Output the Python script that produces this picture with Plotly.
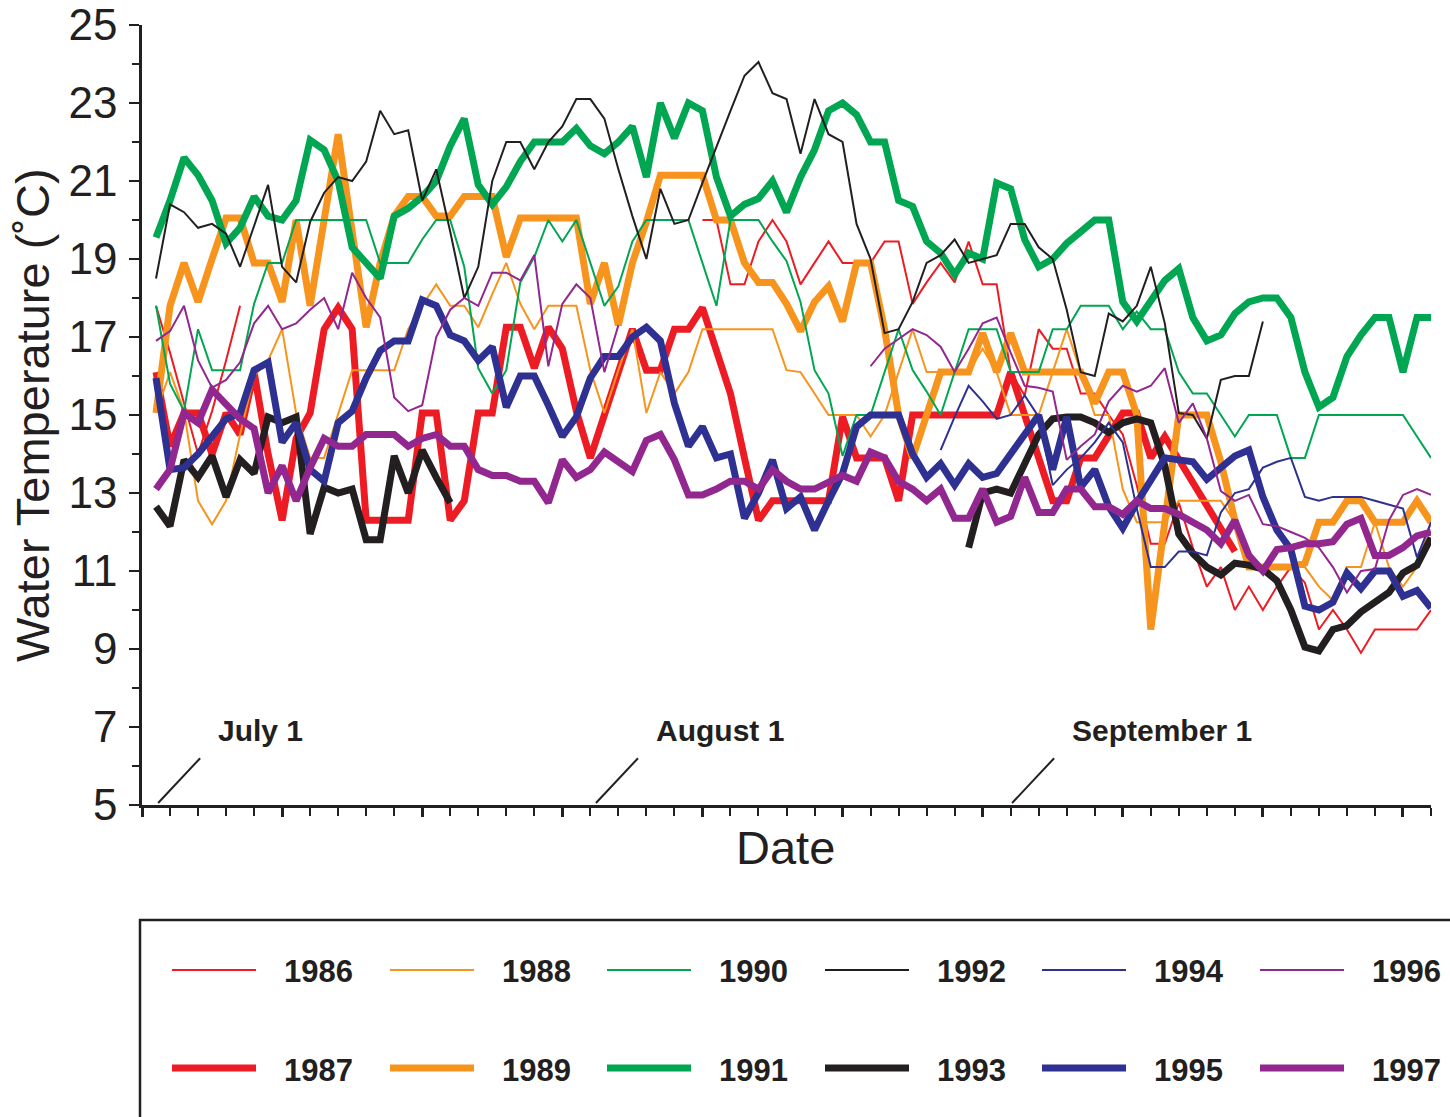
import plotly.graph_objects as go

N = None
days = list(range(1, 93))

t1986 = [17.8, 16.6, 15.3, 14.0, 15.1, 16.4, 17.8, N, N, N,
         N, N, N, N, N, N, N, N, N, N,
         N, N, N, N, N, N, N, N, N, N,
         N, N, N, N, N, N, N, N, N, 20.0,
         20.0, 18.35, 18.35, 19.45, 20.0, 19.45, 18.35, 18.9, 19.45, 18.9,
         18.9, 18.9, 19.45, 19.45, 17.85, 18.4, 18.9, 18.4, 19.45, 18.35,
         18.35, 16.1, 15.5, 17.2, 16.7, 16.7, 15.55, 15.55, 15.0, 14.5,
         13.2, 11.7, 11.7, 12.75, 11.6, 10.6, 11.1, 10.0, 10.6, 10.0,
         10.6, 11.1, 10.7, 9.5, 10.0, 9.5, 8.9, 9.5, 9.5, 9.5,
         9.5, 10.0]
t1987 = [16.1, 14.2, 15.05, 15.05, 14.0, 15.05, 14.5, 16.1, 14.0, 12.3,
         14.4, 15.05, 17.2, 17.75, 17.2, 12.3, 12.3, 12.3, 12.3, 15.05,
         15.05, 12.3, 12.8, 15.05, 15.05, 17.25, 17.25, 16.2, 17.25, 16.7,
         15.1, 13.9, 15.05, 16.15, 17.2, 16.15, 16.15, 17.2, 17.2, 17.75,
         16.65, 15.55, 13.9, 12.3, 12.8, 12.8, 12.8, 12.8, 12.8, 14.95,
         13.9, 13.9, 13.9, 12.8, 15.0, 15.0, 15.0, 15.0, 15.0, 15.0,
         15.0, 16.1, 15.0, 13.9, 12.8, 12.8, 13.9, 13.9, 14.45, 15.05,
         15.05, 13.9, 14.45, 13.85, 13.3, 12.7, 12.1, 11.5, N, N,
         N, N, N, N, N, N, N, N, N, N,
         N, N]
t1988 = [15.05, 16.1, 15.1, 12.8, 12.2, 12.8, 14.5, 16.0, 16.4, 17.2,
         15.05, 13.9, 13.9, 15.05, 16.15, 16.15, 16.15, 16.15, 17.2, 17.8,
         18.35, 17.8, 17.8, 17.25, 18.1, 18.9, 17.85, 17.2, 17.8, 17.8,
         17.8, 16.15, 15.05, 16.15, 17.2, 15.05, 16.1, 15.55, 16.1, 17.2,
         17.2, 17.2, 17.2, 17.2, 17.2, 16.15, 16.1, 15.55, 15.0, 15.0,
         15.0, 14.45, 15.0, 16.1, 17.2, 16.1, 16.1, 16.1, 16.1, 16.7,
         16.1, 15.0, 15.0, 15.0, 16.1, 17.2, 16.1, 15.0, 15.0, 13.1,
         12.25, 12.25, 12.25, 12.8, 12.8, 12.8, 12.8, 12.25, 11.1, 11.1,
         11.1, 11.1, 11.1, 10.6, 10.25, 11.1, 11.1, 12.25, 11.1, 10.6,
         11.1, 12.25]
t1989 = [15.05, 17.8, 18.9, 17.9, 19.0, 20.05, 20.05, 18.9, 18.9, 17.9,
         20.0, 17.8, 20.0, 22.2, 19.7, 17.25, 18.9, 20.1, 20.6, 20.6,
         20.1, 20.1, 20.6, 20.6, 20.6, 19.05, 20.05, 20.05, 20.05, 20.05,
         20.05, 17.85, 18.9, 17.3, 18.9, 19.95, 21.15, 21.15, 21.15, 21.15,
         20.0, 20.0, 18.9, 18.4, 18.4, 17.85, 17.15, 17.9, 18.3, 17.4,
         18.9, 18.9, 17.2, 15.0, 13.9, 15.0, 16.1, 16.1, 16.1, 17.1,
         16.1, 17.1, 16.1, 16.1, 16.1, 16.1, 16.1, 15.3, 16.1, 16.1,
         15.0, 9.5, 12.25, 15.0, 15.0, 15.0, 13.8, 12.3, 11.1, 11.1,
         11.1, 11.1, 11.2, 12.25, 12.25, 12.8, 12.8, 12.25, 12.25, 12.25,
         12.8, 12.25]
t1990 = [17.8, 15.8, 15.1, 17.2, 16.15, 16.15, 16.15, 17.85, 18.9, 18.9,
         20.0, 20.0, 20.0, 20.0, 20.0, 20.0, 18.9, 18.9, 18.9, 19.5,
         20.0, 20.0, 18.8, 16.2, 15.55, 16.15, 18.4, 19.05, 20.0, 19.45,
         20.0, 18.9, 17.8, 18.3, 19.45, 20.0, 20.0, 20.0, 20.0, 18.9,
         17.8, 20.0, 20.0, 20.0, 19.45, 18.95, 17.9, 16.15, 15.55, 13.95,
         15.0, 15.0, 16.1, 17.2, 16.15, 15.6, 15.0, 16.1, 17.2, 17.2,
         17.2, 16.1, 16.1, 16.1, 17.2, 17.2, 17.8, 17.8, 17.8, 17.2,
         17.65, 17.2, 17.2, 16.1, 15.55, 15.55, 15.0, 14.45, 15.0, 15.0,
         15.0, 13.9, 13.9, 15.0, 15.0, 15.0, 15.0, 15.0, 15.0, 15.0,
         14.45, 13.9]
t1991 = [19.55, 20.5, 21.6, 21.15, 20.5, 19.4, 19.8, 20.6, 20.1, 20.0,
         20.5, 22.05, 21.8, 21.0, 19.3, 18.9, 18.5, 20.1, 20.3, 20.6,
         21.0, 21.9, 22.6, 20.9, 20.4, 20.85, 21.5, 22.0, 22.0, 22.0,
         22.35, 21.9, 21.7, 22.0, 22.4, 21.1, 23.0, 22.1, 23.0, 22.8,
         21.1, 20.1, 20.4, 20.55, 21.0, 20.2, 21.1, 21.8, 22.8, 23.0,
         22.7, 22.0, 22.0, 20.5, 20.35, 19.45, 19.15, 18.6, 19.15, 19.0,
         20.95, 20.8, 19.5, 18.8, 19.0, 19.4, 19.7, 20.0, 20.0, 17.9,
         17.4, 17.9, 18.45, 18.75, 17.5, 16.9, 17.05, 17.6, 17.9, 18.0,
         18.0, 17.5, 16.1, 15.2, 15.45, 16.5, 17.05, 17.5, 17.5, 16.1,
         17.5, 17.5]
t1992 = [18.5, 20.4, 20.2, 19.8, 19.9, 19.65, 18.8, 19.85, 20.9, 18.8,
         18.4, 19.95, 20.7, 21.1, 21.0, 21.5, 22.8, 22.2, 22.3, 20.5,
         21.3, 19.7, 18.0, 18.8, 21.0, 22.0, 22.0, 21.3, 22.0, 22.4,
         23.1, 23.1, 22.6, 21.3, 20.1, 19.0, 20.8, 19.9, 20.0, 20.95,
         21.9, 22.8, 23.7, 24.05, 23.25, 23.1, 21.7, 23.1, 22.2, 22.0,
         19.9, 19.0, 17.1, 17.2, 17.9, 18.9, 19.1, 19.5, 18.9, 19.0,
         19.1, 19.9, 19.9, 19.3, 19.0, 17.7, 16.1, 16.0, 17.6, 17.4,
         17.8, 18.8, 17.35, 15.05, 15.0, 14.4, 15.9, 16.0, 16.0, 17.4,
         N, N, N, N, N, N, N, N, N, N,
         N, N]
t1993 = [12.65, 12.15, 13.85, 13.4, 13.95, 12.9, 13.85, 13.5, 14.95, 14.8,
         14.95, 11.95, 13.15, 13.0, 13.1, 11.8, 11.8, 13.95, 13.0, 14.1,
         13.4, 12.75, N, N, N, N, N, N, N, N,
         N, N, N, N, N, N, N, N, N, N,
         N, N, N, N, N, N, N, N, N, N,
         N, N, N, N, N, N, N, N, 11.6, 13.0,
         13.1, 13.0, 13.75, 14.5, 14.9, 14.95, 14.95, 14.8, 14.55, 14.8,
         14.9, 14.8, 13.7, 11.95, 11.45, 11.1, 10.9, 11.2, 11.15, 11.05,
         10.75, 10.0, 9.05, 8.95, 9.5, 9.6, 9.95, 10.2, 10.45, 10.95,
         11.15, 11.85]
t1994 = [N, N, N, N, N, N, N, N, N, N,
         N, N, N, N, N, N, N, N, N, N,
         N, N, N, N, N, N, N, N, N, N,
         N, N, N, N, N, N, N, N, N, N,
         N, N, N, N, N, N, N, N, N, N,
         N, N, N, N, N, N, 14.1, 14.95, 15.75, 15.35,
         14.9, 15.0, 15.5, 14.95, 13.2, 13.6, 13.9, 14.3, 14.8, 14.3,
         12.6, 11.1, 11.1, 11.5, 11.5, 11.4, 12.5, 13.0, 13.1, 13.65,
         13.8, 13.9, 12.9, 12.8, 12.9, 12.9, 12.9, 12.8, 12.7, 12.6,
         11.35, 12.25]
t1995 = [15.95, 13.6, 13.65, 14.0, 14.45, 14.9, 15.05, 16.15, 16.35, 14.3,
         14.8, 13.6, 13.3, 14.8, 15.1, 15.95, 16.65, 16.9, 16.9, 17.95,
         17.8, 17.05, 16.9, 16.4, 16.75, 15.2, 16.0, 16.0, 15.25, 14.45,
         14.95, 15.95, 16.5, 16.5, 17.0, 17.25, 16.9, 15.3, 14.2, 14.7,
         13.9, 14.0, 12.35, 13.0, 13.85, 12.6, 12.9, 12.05, 12.8, 13.5,
         14.7, 15.0, 15.0, 15.0, 14.0, 13.4, 13.75, 13.2, 13.75, 13.4,
         13.5, 14.0, 14.55, 15.0, 13.6, 14.95, 13.15, 13.6, 12.65, 12.1,
         12.75, 13.35, 13.9, 13.85, 13.8, 13.35, 13.65, 13.95, 14.1, 12.9,
         12.05, 11.55, 10.1, 10.0, 10.2, 10.95, 10.55, 11.0, 11.0, 10.35,
         10.5, 10.05]
t1996 = [16.9, 17.15, 17.8, 16.4, 15.7, 15.9, 16.35, 17.35, 17.8, 17.2,
         17.35, 17.7, 18.0, 17.2, 18.65, 18.0, 17.5, 15.45, 15.1, 15.25,
         17.0, 17.7, 18.0, 17.8, 18.65, 18.65, 18.45, 19.1, 16.25, 17.85,
         18.35, 18.0, 16.1, 17.3, N, N, N, N, N, N,
         N, N, N, N, N, N, N, N, N, N,
         N, 16.25, 16.7, 16.95, 17.2, 17.05, 16.75, 16.1, 16.7, 17.35,
         17.5, 16.6, 15.75, 15.7, 15.6, 13.85, 14.2, 14.5, 15.35, 15.75,
         15.6, 15.75, 16.2, 14.8, 15.3, 14.4, 13.05, 12.8, 12.95, 12.2,
         12.15, 12.0, 11.85, 11.6, 11.1, 10.45, 11.0, 11.05, 12.3, 12.95,
         13.1, 12.95]
t1997 = [13.1, 13.6, 15.05, 14.8, 15.65, 15.3, 14.9, 14.65, 13.0, 13.7,
         12.8, 13.65, 14.4, 14.2, 14.2, 14.5, 14.5, 14.5, 14.2, 14.4,
         14.5, 14.2, 14.2, 13.6, 13.45, 13.45, 13.3, 13.3, 12.75, 13.85,
         13.4, 13.6, 14.05, 13.8, 13.55, 14.35, 14.5, 13.85, 12.95, 12.95,
         13.1, 13.3, 13.3, 13.1, 13.6, 13.3, 13.1, 13.1, 13.3, 13.45,
         13.3, 14.05, 13.9, 13.3, 13.1, 12.8, 13.1, 12.35, 12.35, 13.1,
         12.25, 12.4, 13.4, 12.5, 12.5, 13.1, 13.1, 12.65, 12.65, 12.45,
         12.8, 12.6, 12.6, 12.45, 12.25, 12.05, 11.7, 12.3, 11.4, 11.0,
         11.55, 11.6, 11.7, 11.7, 11.75, 12.2, 12.35, 11.4, 11.4, 11.6,
         11.9, 12.0]

years = ["1986", "1987", "1988", "1989", "1990", "1991",
         "1992", "1993", "1994", "1995", "1996", "1997"]
series = [t1986, t1987, t1988, t1989, t1990, t1991,
          t1992, t1993, t1994, t1995, t1996, t1997]
colors = ["#ed1c24", "#ed1c24", "#f7941d", "#f7941d", "#00a651", "#00a651",
          "#231f20", "#231f20", "#2e3192", "#2e3192", "#92278f", "#92278f"]
widths = [2, 7, 2, 7, 2, 7, 2, 7, 2, 7, 2, 7]

date_labels = ["July 1", "August 1", "September 1"]
date_pos = [1.15, 32.4, 62.1]

INK = "#231f20"
FONT = "Liberation Sans, Arial, Helvetica, sans-serif"

fig = go.Figure()
for yr, vals, c, w in zip(years, series, colors, widths):
    fig.add_trace(go.Scatter(x=days, y=vals, mode="lines", name=yr,
                             line=dict(color=c, width=w), connectgaps=False,
                             showlegend=False))

shapes = []
annotations = []

for lab, xp in zip(date_labels, date_pos):
    shapes.append(dict(type="line", xref="x", yref="y", x0=xp, y0=5.05,
                       x1=xp + 3.0, y1=6.2, line=dict(color=INK, width=2)))
    annotations.append(dict(xref="x", yref="y", x=xp + 4.15, y=6.9,
                            text="<b>%s</b>" % lab, showarrow=False,
                            xanchor="left", yanchor="middle",
                            font=dict(family=FONT, size=30, color=INK)))

annotations.append(dict(xref="paper", yref="paper", x=0.4996, y=-0.055,
                        text="Date", showarrow=False, xanchor="center",
                        yanchor="middle",
                        font=dict(family=FONT, size=47, color=INK)))
annotations.append(dict(xref="paper", yref="paper", x=(32 - 142) / 1289.0,
                        y=0.5,
                        text="Water Temperature (˚C)", showarrow=False,
                        textangle=-90, xanchor="center", yanchor="middle",
                        font=dict(family=FONT, size=47, color=INK)))

PW, PH = 1289.0, 780.0
def px(xp):
    return (xp - 142) / PW
def py(yp):
    return (805 - yp) / PH

shapes.append(dict(type="line", xref="paper", yref="paper",
                   x0=px(139), y0=py(920), x1=px(1460), y1=py(920),
                   line=dict(color=INK, width=2.5)))
shapes.append(dict(type="line", xref="paper", yref="paper",
                   x0=px(140), y0=py(919), x1=px(140), y1=py(1130),
                   line=dict(color=INK, width=2.5)))

col_x = [172, 390, 607, 825, 1042, 1260]
row_y = [970, 1068]
for i, (yr, c, w) in enumerate(zip(years, colors, widths)):
    col = i // 2
    row = i % 2
    x0 = col_x[col]
    y0 = row_y[row]
    shapes.append(dict(type="line", xref="paper", yref="paper",
                       x0=px(x0), y0=py(y0), x1=px(x0 + 84), y1=py(y0),
                       line=dict(color=c, width=w)))
    annotations.append(dict(xref="paper", yref="paper", x=px(x0 + 110),
                            y=py(y0 + 2), text="<b>%s</b>" % yr,
                            showarrow=False, xanchor="left", yanchor="middle",
                            font=dict(family=FONT, size=31, color=INK)))

fig.update_layout(
    width=1450, height=1117,
    margin=dict(l=142, r=19, t=25, b=312, autoexpand=False),
    paper_bgcolor="white", plot_bgcolor="white",
    shapes=shapes, annotations=annotations,
    showlegend=False,
    font=dict(family=FONT, color=INK),
)
fig.update_xaxes(range=[0, 92], showgrid=False, zeroline=False, automargin=False,
                 showline=True, linecolor=INK, linewidth=2.5,
                 ticks="outside", tick0=0, dtick=10, ticklen=9, tickwidth=2.5,
                 tickcolor=INK, showticklabels=False,
                 minor=dict(ticks="outside", dtick=2, ticklen=8, tickwidth=1.5,
                            tickcolor=INK))
fig.update_yaxes(range=[5, 25], showgrid=False, zeroline=False, automargin=False,
                 showline=True, linecolor=INK, linewidth=2.5,
                 ticks="outside", tick0=5, dtick=2, ticklen=10, tickwidth=1.5,
                 tickcolor=INK, ticklabelstandoff=3,
                 tickfont=dict(family=FONT, size=44, color=INK),
                 minor=dict(ticks="outside", tick0=5, dtick=1, ticklen=7,
                            tickwidth=1.5, tickcolor=INK))

fig.write_html("out.html", config={"displayModeBar": False},
               post_script="document.body.style.margin='0';"
                           "document.body.style.overflow='hidden';")
